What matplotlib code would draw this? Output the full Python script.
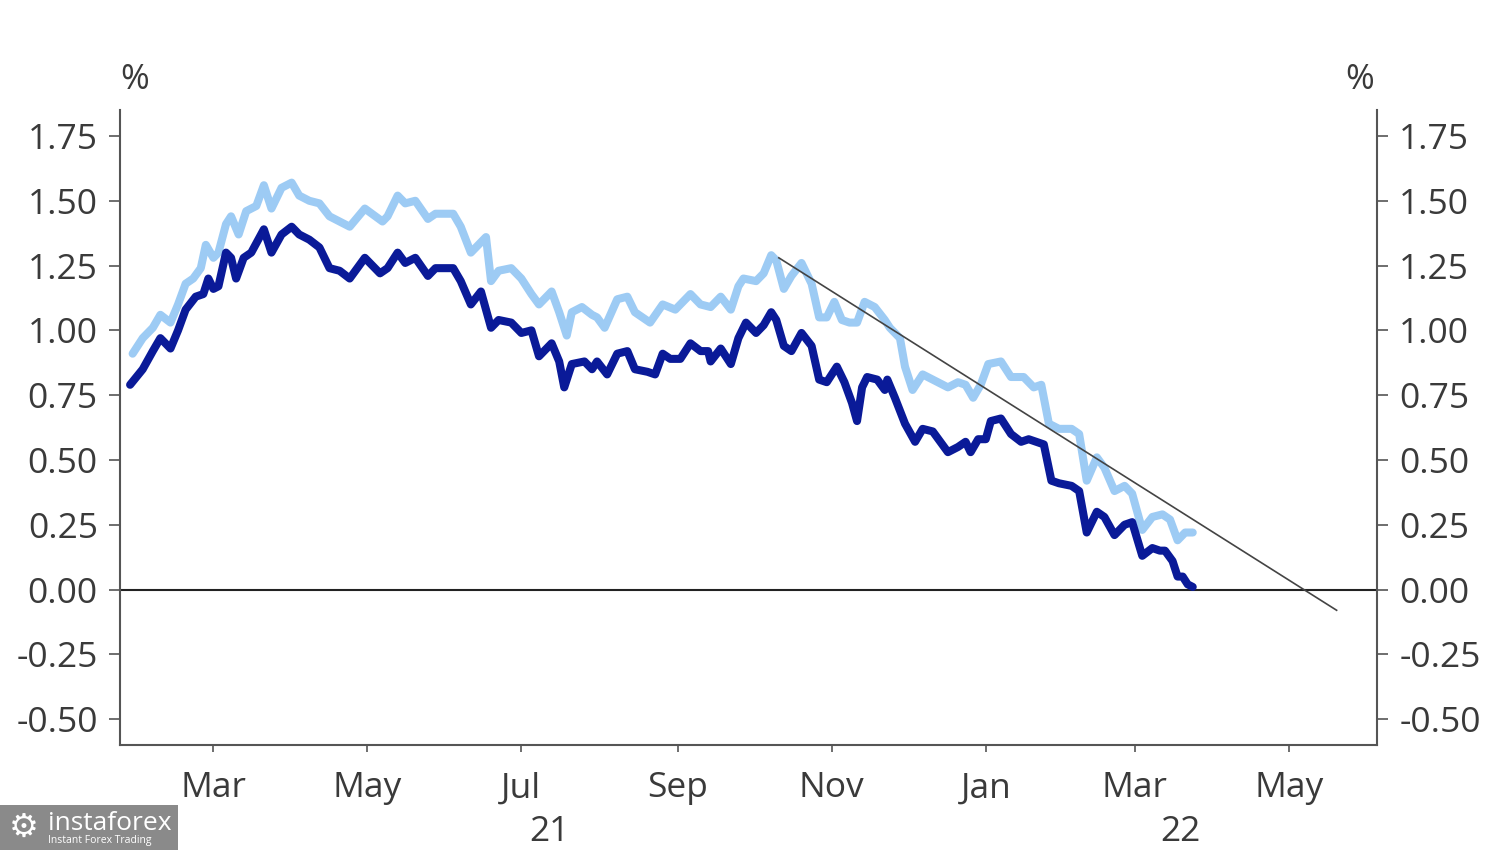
import matplotlib
matplotlib.use("Agg")
import matplotlib.pyplot as plt
import matplotlib.dates as mdates
import matplotlib.transforms as mtransforms
from matplotlib.patches import Rectangle
import pandas as pd

# values, x = days since 1 Jan 2021, y = %
dark_days = [26, 31, 35, 38, 42, 45, 48, 52, 55, 57, 59, 61, 64, 66, 68, 71, 74, 79, 82, 86,
             90, 93, 97, 101, 105, 109, 113, 119, 125,
             128, 132, 135, 139, 144, 147, 154, 157, 161, 165, 169, 172, 177, 181, 185, 188,
             193, 196, 198, 201, 206, 209, 211, 215, 219, 223, 226,
             231, 234, 237, 240, 244, 248, 252, 255, 256, 260, 264, 267, 270, 274, 277, 280,
             282, 285, 288, 292, 296, 299, 302, 306, 309, 312, 314, 316, 318, 322, 325, 326,
             329, 333,
             337, 340, 344, 350, 354, 357, 359, 362, 365, 367, 371, 375, 379, 382, 385, 388,
             391, 394, 399, 402, 405, 409, 412, 416, 420, 423, 427, 431, 434, 436, 439, 441,
             443, 445, 447]
dark_vals = [0.79, 0.85, 0.92, 0.97, 0.93, 1.00, 1.08, 1.13, 1.14, 1.20, 1.16, 1.17, 1.30, 1.28,
             1.20, 1.28, 1.30, 1.39, 1.30, 1.37, 1.40, 1.37, 1.35, 1.32, 1.24, 1.23, 1.20, 1.28,
             1.22,
             1.24, 1.30, 1.26, 1.28, 1.21, 1.24, 1.24, 1.19, 1.10, 1.15, 1.01, 1.04, 1.03, 0.99,
             1.00, 0.90, 0.95, 0.88, 0.78, 0.87, 0.88, 0.85, 0.88, 0.83, 0.91, 0.92, 0.85,
             0.84, 0.83, 0.91, 0.89, 0.89, 0.95, 0.92, 0.92, 0.88, 0.93, 0.87, 0.97, 1.03, 0.99,
             1.02, 1.07, 1.04, 0.94, 0.92, 0.99, 0.94, 0.81, 0.80, 0.86, 0.80, 0.72, 0.65, 0.78,
             0.82, 0.81, 0.77, 0.81, 0.74, 0.64,
             0.57, 0.62, 0.61, 0.53, 0.55, 0.57, 0.53, 0.58, 0.58, 0.65, 0.66, 0.60, 0.57, 0.58,
             0.57, 0.56, 0.42, 0.41, 0.40, 0.38, 0.22, 0.30, 0.28, 0.21, 0.25, 0.26, 0.13, 0.16,
             0.15, 0.15, 0.11, 0.05, 0.05, 0.02, 0.01]

light_days = [27, 31, 35, 38, 42, 45, 48, 51, 54, 56, 59, 61, 64, 66, 69, 72, 76, 79, 82, 86,
              90, 93, 97, 101, 105, 109, 113, 119, 126,
              128, 132, 135, 139, 144, 147, 154, 157, 161, 167, 169, 172, 177, 181, 185, 188,
              193, 196, 199, 201, 205, 209, 211, 214, 219, 223, 226,
              232, 237, 242, 248, 252, 256, 260, 264, 267, 269, 274, 277, 280, 282, 285, 288,
              292, 296, 299, 302, 305, 308, 311, 314, 317, 321, 325, 327, 331, 333,
              336, 340, 346, 350, 354, 357, 360, 363, 366, 371, 375, 380, 384, 387, 390, 394,
              399, 402, 405, 409, 412, 416, 420, 423, 427, 431, 435, 438, 441, 444, 447]
light_vals = [0.91, 0.97, 1.01, 1.06, 1.03, 1.10, 1.18, 1.20, 1.24, 1.33, 1.28, 1.30, 1.41, 1.44,
              1.37, 1.46, 1.48, 1.56, 1.47, 1.55, 1.57, 1.52, 1.50, 1.49, 1.44, 1.42, 1.40, 1.47,
              1.42,
              1.44, 1.52, 1.49, 1.50, 1.43, 1.45, 1.45, 1.40, 1.30, 1.36, 1.19, 1.23, 1.24, 1.20,
              1.14, 1.10, 1.15, 1.07, 0.98, 1.07, 1.09, 1.06, 1.05, 1.01, 1.12, 1.13, 1.07,
              1.03, 1.10, 1.08, 1.14, 1.10, 1.09, 1.13, 1.08, 1.17, 1.20, 1.19, 1.22, 1.29, 1.27,
              1.16, 1.21, 1.26, 1.18, 1.05, 1.05, 1.11, 1.04, 1.03, 1.03, 1.11, 1.09, 1.04, 1.01,
              0.97, 0.86,
              0.77, 0.83, 0.80, 0.78, 0.80, 0.79, 0.74, 0.79, 0.87, 0.88, 0.82, 0.82, 0.78, 0.79,
              0.64, 0.62, 0.62, 0.60, 0.42, 0.51, 0.47, 0.38, 0.40, 0.37, 0.23, 0.28, 0.29, 0.27,
              0.19, 0.22, 0.22]

trend_dates = ["2021-10-11", "2022-05-20"]
trend_vals = [1.28, -0.08]

y_ticks = [-0.50, -0.25, 0.00, 0.25, 0.50, 0.75, 1.00, 1.25, 1.50, 1.75]
year_labels = ["21", "22"]
year_label_dates = ["2021-07-12", "2022-03-19"]

DARK = "#0a1a98"
LIGHT = "#9dcbf4"
TEXT = "#3a3a3a"

plt.rcParams["font.family"] = ["Open Sans", "DejaVu Sans"]
plt.rcParams["axes.unicode_minus"] = False

base = pd.Timestamp("2021-01-01")
dark_x = base + pd.to_timedelta(dark_days, unit="D")
light_x = base + pd.to_timedelta(light_days, unit="D")

fig = plt.figure(figsize=(15, 8.5), dpi=100)
ax = fig.add_axes([0.08, 0.1235, 0.838, 0.747])

ax.axhline(0, color="#222222", lw=1.5, zorder=1)
ax.plot(light_x, light_vals, color=LIGHT, lw=5.8, solid_joinstyle="round",
        solid_capstyle="round", zorder=2)
ax.plot(dark_x, dark_vals, color=DARK, lw=5.8, solid_joinstyle="round",
        solid_capstyle="round", zorder=3)
ax.plot(pd.to_datetime(trend_dates), trend_vals, color="#444444", lw=1.2, zorder=4)

ax.set_xlim(pd.Timestamp("2021-01-23"), pd.Timestamp("2022-06-05"))
ax.set_ylim(-0.6, 1.85)
ax.set_yticks(y_ticks)
ax.set_yticklabels([f"{v:.2f}" for v in y_ticks])

ax.xaxis.set_major_locator(mdates.MonthLocator(bymonth=[1, 3, 5, 7, 9, 11]))
ax.xaxis.set_major_formatter(mdates.DateFormatter("%b"))

ax.spines["top"].set_visible(False)
for side in ["left", "right", "bottom"]:
    ax.spines[side].set_color("#555555")
    ax.spines[side].set_linewidth(1.5)

ax.tick_params(axis="y", which="both", left=True, right=True, labelleft=True, labelright=True,
               direction="out", length=8, width=1.2, color="#555555", labelsize=25.5,
               labelcolor=TEXT, pad=8)
ax.tick_params(axis="x", direction="out", length=5, width=1.2, color="#555555", labelsize=25.5,
               labelcolor=TEXT, pad=14)

# % unit labels
fig.text(135 / 1500, 1 - 80 / 850, "%", ha="center", va="center", fontsize=25, color=TEXT)
fig.text(1360 / 1500, 1 - 80 / 850, "%", ha="center", va="center", fontsize=25, color=TEXT)

# year labels under month ticks
trans = mtransforms.blended_transform_factory(ax.transData, fig.transFigure)
for lab, d in zip(year_labels, year_label_dates):
    ax.text(mdates.date2num(pd.Timestamp(d)), 1 - 832 / 850, lab, transform=trans,
            ha="center", va="center", fontsize=25.5, color=TEXT)

# watermark box
fig.patches.append(Rectangle((0, 0), 178 / 1500, 45 / 850, transform=fig.transFigure,
                             facecolor="#8a8a8a", edgecolor="none", zorder=10))
fig.text(48 / 1500, 1 - 824 / 850, "instaforex", ha="left", va="center", fontsize=19,
         color="white", zorder=11)
fig.text(48 / 1500, 1 - 841 / 850, "Instant Forex Trading", ha="left", va="center",
         fontsize=7.5, color="white", zorder=11)
fig.text(24 / 1500, 1 - 827 / 850, "\u2699", ha="center", va="center", fontsize=24,
         color="white", family="DejaVu Sans", zorder=11)

fig.savefig("out.png", dpi=100, facecolor="white")
